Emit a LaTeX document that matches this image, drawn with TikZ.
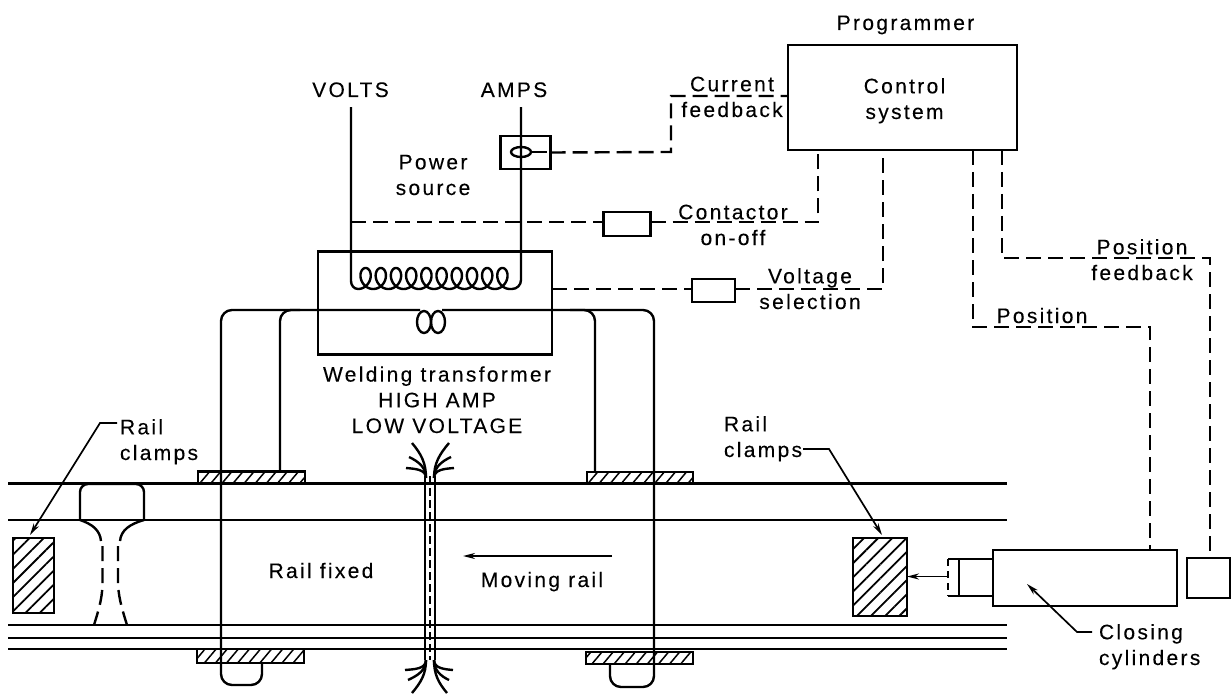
\documentclass[tikz,border=0pt]{standalone}
\usepackage{fontspec}
\setmainfont{Liberation Sans}[LetterSpace=11,FakeBold=0.15]
\usetikzlibrary{arrows.meta,patterns.meta}
\tikzset{
  wire/.style={line width=2.4pt,line join=round},
  dashline/.style={line width=2.4pt,dash pattern=on 15pt off 7pt},
  box/.style={draw,line width=2.4pt,inner sep=0pt,outer sep=0pt},
  pad/.style={box,pattern={Lines[angle=50,distance=8.5pt,line width=1.5pt]}},
  clamp/.style={box,pattern={Lines[angle=45,distance=10pt,line width=1.8pt]}},
  label/.style={font=\fontsize{21}{25.7}\selectfont,inner sep=0pt,outer sep=0pt,anchor=base,align=center},
  lleft/.style={label,anchor=base west,align=left},
  leader/.style={line width=1.7pt,-{Stealth[length=12pt,width=6pt]}},
}
\begin{document}
\begin{tikzpicture}[x=1pt,y=-1pt]
\useasboundingbox (0,0) rectangle (1231,695);
% boxes
\node[box,minimum width=229pt,minimum height=105pt] (ctrl) at (902.5,97.5) {};
\node[box,minimum width=234pt,minimum height=103pt] (trans) at (435,303) {};
\node[box,minimum width=50pt,minimum height=33pt] (ampbox) at (525.5,152.5) {};
\node[box,minimum width=47pt,minimum height=24pt] (contact) at (627,224) {};
\node[box,minimum width=43pt,minimum height=23pt] (volt) at (713.5,290.5) {};
\node[box,minimum width=184pt,minimum height=56pt] (cyl) at (1085,578) {};
\node[box,minimum width=43pt,minimum height=40pt] (fb) at (1208.5,578) {};
\node[box,minimum width=34pt,minimum height=37pt] (rod) at (976,577.5) {};
% rails
\foreach \n/\y in {ra/483.5,rb/520,rc/625,rd/638,re/649}{
  \coordinate (\n l) at (8,\y); \coordinate (\n r) at (1007,\y);
  \draw[wire] (\n l) -- (\n r);
}
% pads and clamps
\node[pad,minimum width=107pt,minimum height=12pt] (padtl) at (251.5,477.5) {};
\node[pad,minimum width=106pt,minimum height=12pt] (padtr) at (640,478) {};
\node[pad,minimum width=107pt,minimum height=14pt] (padbl) at (250.5,656) {};
\node[pad,minimum width=107pt,minimum height=12pt] (padbr) at (639.5,658) {};
\node[clamp,minimum width=41pt,minimum height=75pt] (cleft) at (33.5,575.5) {};
\node[clamp,minimum width=54pt,minimum height=78pt] (cright) at (880,577) {};
% text
\node[label] (prog) at (905.5,30) {Programmer};
\node[label] (volts) at (350.5,97) {VOLTS};
\node[label] (amps) at (514,97) {AMPS};
\node[label] at (433,195) {Power\\source};
\node[label] at (904.5,119) {Control\\system};
\node[label] at (732,117) {Current\\feedback};
\node[label] at (733,245) {Contactor\\on-off};
\node[label] at (810,309) {Voltage\\selection};
\node[label] at (1142,280) {Position\\feedback};
\node[label] at (1042,323) {Position};
\node[label] at (437,433) {Welding transformer\\HIGH AMP\\LOW VOLTAGE};
\node[lleft] (railL) at (120,460) {Rail\\clamps};
\node[lleft] (railR) at (724,457) {Rail\\clamps};
\node[label] at (321,578) {Rail fixed};
\node[label] at (542,587) {Moving rail};
\node[lleft] (closing) at (1099,665) {Closing\\cylinders};
% primary
\coordinate (ps) at (358,289);
\coordinate (pe) at (510,289);
\draw[wire] ([yshift=-10pt,xshift=0.5pt]volts.south) -- (351,281) to[out=-90,in=180] (ps);
\draw[wire] plot[domain=0:3600,samples=500,smooth] ({358+0.04222*\x+8.6*sin(\x)},{278.5+10.5*cos(\x)});
\draw[wire] (pe) -- (512,289) to[out=0,in=-90] (521,280) -- ([yshift=-10pt,xshift=7pt]amps.south);
% ammeter
\draw[wire] (521,152) ellipse[x radius=10,y radius=5];
\draw[wire] (531,152) -- (547,152);
% secondary
\draw[wire] (424,322) ellipse[x radius=7,y radius=11];
\draw[wire] (438,322) ellipse[x radius=7,y radius=11];
\draw[wire,rounded corners=11pt] (262,663) -- (262,685) -- (221,685) -- (221,310) -- (420,310);
\draw[wire,rounded corners=11pt] (280,471) -- (280,310) -- (300,310);
\draw[wire,rounded corners=11pt] (610,664) -- (610,687) -- (654,687) -- (654,310) -- (442,310);
\draw[wire,rounded corners=11pt] (595,472) -- (595,310) -- (570,310);
% fusion
\draw[wire] (425,476) -- (425,660) (435,476) -- (435,660);
\draw[line width=2.4pt,dash pattern=on 8pt off 4pt] (430,476) -- (430,660);
\foreach \a/\b/\i in {412/443/-50,409/457/-25,406/468/-5}{
  \draw[wire] (426,478) to[out=90,in=\i] (\a,\b);}
\foreach \a/\b/\i in {449/443/230,451/457/205,454/468/185}{
  \draw[wire] (434,478) to[out=90,in=\i] (\a,\b);}
\foreach \a/\b/\i in {405/670/5,408/680/25,412/693/50}{
  \draw[wire] (426,660) to[out=-90,in=\i] (\a,\b);}
\foreach \a/\b/\i in {453/670/175,449/680/155,447/693/130}{
  \draw[wire] (434,660) to[out=-90,in=\i] (\a,\b);}
% rail section
\draw[wire,rounded corners=8pt] (80,520) -- (80,484) -- (144,484) -- (144,520);
\draw[wire] (80,520) .. controls (92,524) and (100,530) .. (101,541);
\draw[wire] (144,520) .. controls (130,524) and (121,530) .. (120,541);
\draw[wire,dash pattern=on 15pt off 7pt] (102.5,546) -- (102.5,585) .. controls (102,600) and (98,612) .. (94,625);
\draw[wire,dash pattern=on 15pt off 7pt] (118,546) -- (118,585) .. controls (119,600) and (123,612) .. (127,625);
% dashed control lines
\coordinate (cf1) at (671,152);
\coordinate (cf2) at (671,96);
\draw[dashline] (ampbox.east) -- (cf1) -- (cf2) -- (cf2 -| ctrl.west);
\coordinate (con1) at (351,222);
\coordinate (con2) at (818,222);
\draw[dashline] (con1) -- (con1 -| contact.west);
\draw[dashline] (con1 -| contact.east) -- (con2) -- (con2 |- ctrl.south);
\coordinate (vs1) at (883,289);
\draw[dashline] (trans.east |- vs1) -- (vs1 -| volt.west);
\draw[dashline] (vs1 -| volt.east) -- (vs1) -- (vs1 |- ctrl.south);
\coordinate (p1) at (973,327);
\coordinate (p2) at (1150,327);
\draw[dashline] (p1 |- ctrl.south) -- (p1) -- (p2) -- (p2 |- cyl.north);
\coordinate (pf1) at (1002,258);
\coordinate (pf2) at (1210,258);
\draw[dashline] (pf1 |- ctrl.south) -- (pf1) -- (pf2) -- (pf2 |- fb.north);
% piston
\coordinate (pt) at (948,559); \coordinate (pb) at (948,596);
\draw[wire] (pt) -- (rod.north west);
\draw[wire] (pb) -- (rod.south west);
\draw[line width=2.4pt,dash pattern=on 7pt off 5pt] (pt) -- (pb);
\draw[leader] (948,576.5) -- (cright.east |- 948,576.5);
% moving-rail arrow
\coordinate (mr1) at (612,556); \coordinate (mr2) at (463,556);
\draw[leader] (mr1) -- (mr2);
% leaders
\coordinate (la) at (100,423);
\draw[leader] (117,423) -- (la) -- (30,535);
\coordinate (lb) at (829,449);
\draw[leader] (803,449) -- (lb) -- (882,535);
\coordinate (lc) at (1077,632);
\draw[leader] (1092,632) -- (lc) -- (1027,584);
\end{tikzpicture}
\end{document}
